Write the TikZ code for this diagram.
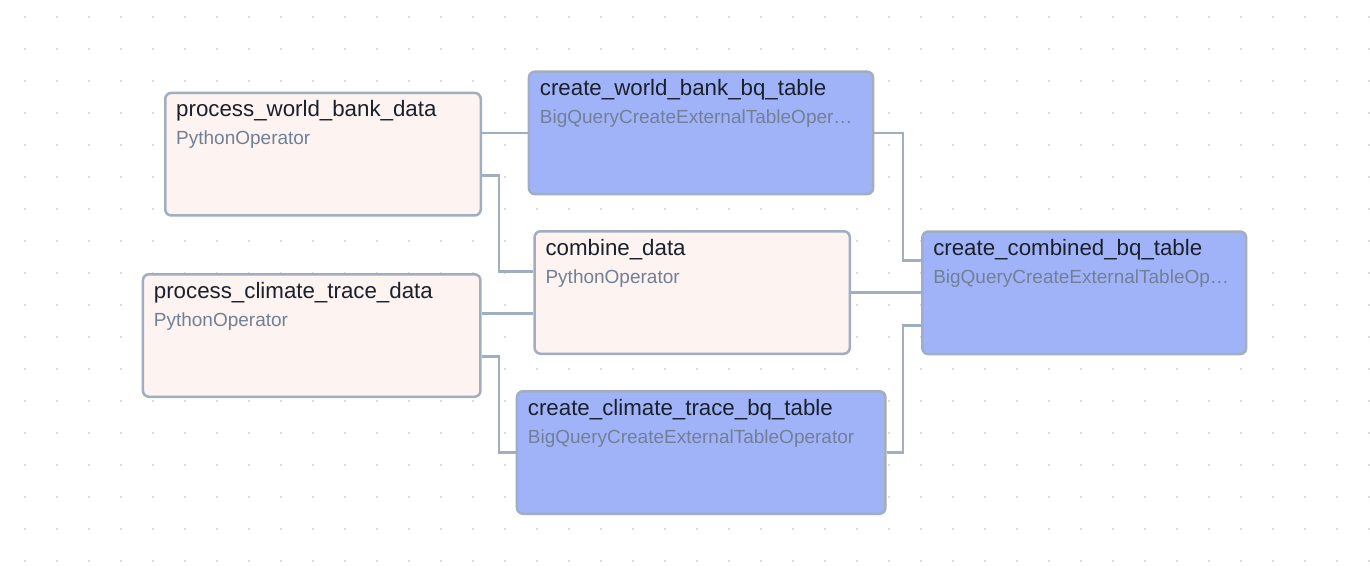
\documentclass[tikz,border=0pt]{standalone}
\usepackage{fontspec}
\setmainfont{Liberation Sans}
\usetikzlibrary{positioning}
\definecolor{edgegray}{HTML}{A0AEC0}
\definecolor{pyfill}{HTML}{FDF3F0}
\definecolor{bqfill}{HTML}{A0B3F8}
\definecolor{namecol}{HTML}{1A202C}
\definecolor{opcol}{HTML}{718096}
\definecolor{dotcol}{HTML}{B8B8B8}

\begin{document}
\begin{tikzpicture}[
    x=1pt, y=-1pt,
    task/.style={draw=edgegray, line width=2.5pt, rounded corners=6pt, minimum height=122.5pt, inner sep=0pt},
    python/.style={task, fill=pyfill},
    bigquery/.style={task, fill=bqfill},
    taskname/.style={anchor=base west, inner sep=0pt, text=namecol, font=\fontsize{22.3}{26}\selectfont},
    optype/.style={anchor=base west, inner sep=0pt, text=opcol, font=\fontsize{19}{22}\selectfont},
    link/.style={draw=edgegray, line width=2.5pt}
]
\useasboundingbox (0,0) rectangle (1370,578);
\fill[white] (0,0) rectangle (1370,578);
\foreach \x in {25,57,...,1369}
  \foreach \y in {17,49,...,561}
    \fill[dotcol] (\x,\y) circle (0.9pt);

\node[python, minimum width=315.5pt] (wb) at (323,154.2) {};
\node[python, minimum width=337.5pt] (ct) at (311.7,335.5) {};
\node[bigquery, minimum width=344.1pt] (wbbq) at (701,132.9) {};
\node[python, minimum width=315.2pt] (comb) at (692.2,292.5) {};
\node[bigquery, minimum width=368.5pt] (ctbq) at (701.2,452.5) {};
\node[bigquery, minimum width=323.8pt] (combbq) at (1084.2,292.8) {};

\node[taskname] (wb-name) at ([shift={(12,25)}]wb.north west) {process\_world\_bank\_data};
\node[optype] (wb-op) at ([shift={(12,53)}]wb.north west) {PythonOperator};
\node[taskname] (ct-name) at ([shift={(12,25)}]ct.north west) {process\_climate\_trace\_data};
\node[optype] (ct-op) at ([shift={(12,53)}]ct.north west) {PythonOperator};
\node[taskname] (wbbq-name) at ([shift={(12,25)}]wbbq.north west) {create\_world\_bank\_bq\_table};
\node[optype] (wbbq-op) at ([shift={(12,53)}]wbbq.north west) {BigQueryCreateExternalTableOper…};
\node[taskname] (comb-name) at ([shift={(12,25)}]comb.north west) {combine\_data};
\node[optype] (comb-op) at ([shift={(12,53)}]comb.north west) {PythonOperator};
\node[taskname] (ctbq-name) at ([shift={(12,25.5)}]ctbq.north west) {create\_climate\_trace\_bq\_table};
\node[optype] (ctbq-op) at ([shift={(12,53.5)}]ctbq.north west) {BigQueryCreateExternalTableOperator};
\node[taskname] (combbq-name) at ([shift={(12,25)}]combbq.north west) {create\_combined\_bq\_table};
\node[optype] (combbq-op) at ([shift={(12,53)}]combbq.north west) {BigQueryCreateExternalTableOp…};

\draw[link] (wb.east |- wbbq.west) -- (wbbq.west);
\draw[link] ([yshift=-21.5pt]wb.east) -- ++(17,0) |- ([yshift=21pt]comb.west);
\draw[link] ([yshift=22pt]ct.east) -- ([yshift=-21pt]comb.west);
\draw[link] ([yshift=-21pt]ct.east) -- ++(17.3,0) |- (ctbq.west);
\draw[link] (wbbq.east) -- ++(28.7,0) |- ([yshift=32.5pt]combbq.west);
\draw[link] (comb.east) -- (comb.east -| combbq.west);
\draw[link] (ctbq.east) -- ++(16.3,0) |- ([yshift=-32.5pt]combbq.west);
\end{tikzpicture}
\end{document}
